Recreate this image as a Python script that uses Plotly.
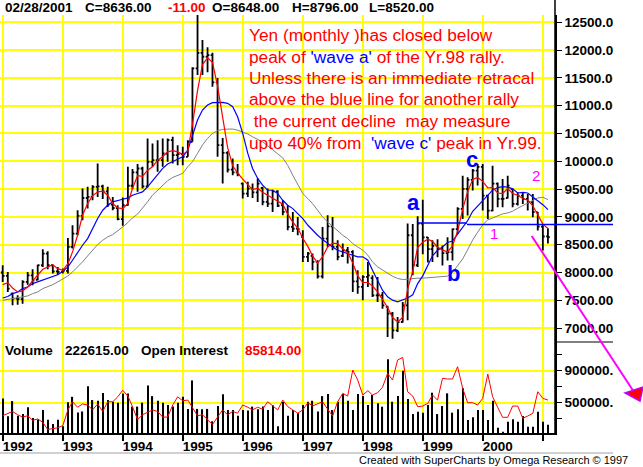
import pandas as pd
import plotly.graph_objects as go
from plotly.subplots import make_subplots

# monthly Yen futures, Jan 1992 - Feb 2001
months = pd.date_range("1992-01-01", periods=110, freq="MS")

open_ = [
    8000, 7940, 7620, 7530, 7520, 7830, 7950, 7870, 8130, 8340, 8130, 8020,
    8010, 8030, 8460, 8700, 9020, 9340, 9360, 9540, 9550, 9460, 9220, 9160,
    8960, 9210, 9560, 9800, 9870, 9550, 9990, 10020, 10020, 10140, 10380, 10110,
    10130, 10080, 10350, 11670, 11950, 11880, 11910, 11420, 10290, 10150, 9850, 9800,
    9600, 9420, 9510, 9440, 9520, 9270, 9240, 9460, 9210, 9090, 8820, 8790,
    8640, 8280, 8300, 8190, 7930, 8610, 8830, 8460, 8300, 8400, 8370, 7840,
    7740, 7920, 7900, 7590, 7590, 7380, 7260, 6960, 7110, 7410, 8670, 8130,
    8880, 8630, 8420, 8480, 8420, 8350, 8365, 8780, 9143, 9503, 9665, 9832,
    9900, 9383, 9114, 9600, 9323, 9340, 9500, 9233, 9383, 9323, 9263, 9084,
    8826, 8648,
]
high = [
    8130, 8010, 7640, 7590, 7860, 8010, 8060, 8140, 8420, 8380, 8140, 8100,
    8070, 8620, 8850, 9120, 9510, 9540, 9570, 9960, 9580, 9540, 9360, 9210,
    9350, 9900, 9860, 9950, 9900, 10410, 10320, 10380, 10410, 10410, 10440, 10290,
    10260, 10380, 11690, 12640, 12180, 12050, 11950, 11500, 10420, 10180, 10050, 9950,
    9620, 9630, 9600, 9690, 9540, 9510, 9490, 9479, 9300, 9210, 9090, 9000,
    8760, 8370, 8340, 8220, 8820, 9030, 9000, 8580, 8520, 8460, 8400, 8040,
    7950, 8190, 7950, 7920, 7650, 7400, 7290, 7200, 7470, 8880, 8870, 9010,
    9310, 8640, 8580, 8600, 8485, 8634, 8790, 9173, 9742, 9712, 9862, 9952,
    9952, 9400, 9922, 9620, 9680, 9742, 9510, 9443, 9443, 9413, 9413, 9090,
    8874, 8796,
]
low = [
    7830, 7650, 7410, 7420, 7440, 7780, 7770, 7860, 8100, 8060, 7980, 7960,
    7980, 7980, 8430, 8670, 8940, 9150, 9300, 9360, 9320, 9180, 9120, 8940,
    8840, 9200, 9500, 9450, 9510, 9530, 9900, 9810, 9900, 9990, 9960, 9930,
    9930, 10080, 10350, 11550, 11550, 11600, 11340, 10080, 9600, 9800, 9750, 9730,
    9330, 9360, 9340, 9270, 9210, 9180, 9090, 9180, 9030, 8760, 8730, 8670,
    8190, 8190, 8040, 7890, 7890, 8460, 8400, 8220, 8280, 8160, 7650, 7620,
    7500, 7740, 7560, 7470, 7350, 6840, 6810, 6930, 7100, 7140, 7950, 8100,
    8330, 8180, 8190, 8275, 8125, 8215, 8215, 8694, 8964, 9024, 9473, 9563,
    9114, 8964, 9100, 9173, 9173, 9330, 9173, 9203, 9233, 9114, 8994, 8754,
    8395, 8520,
]
close = [
    7940, 7710, 7530, 7520, 7830, 7950, 7860, 8130, 8340, 8130, 8020, 8010,
    8030, 8460, 8700, 9020, 9340, 9360, 9540, 9550, 9460, 9220, 9160, 8960,
    9210, 9560, 9800, 9870, 9550, 9990, 10020, 10020, 10140, 10380, 10110, 10130,
    10080, 10350, 11670, 11950, 11880, 11910, 11420, 10290, 10150, 9850, 9800, 9760,
    9420, 9510, 9440, 9600, 9270, 9240, 9460, 9200, 9090, 8820, 8790, 8780,
    8280, 8340, 8190, 7930, 8610, 8830, 8460, 8280, 8400, 8370, 7840, 7740,
    7920, 7950, 7590, 7590, 7410, 7260, 6960, 7110, 7410, 8670, 8130, 8880,
    8630, 8420, 8480, 8420, 8350, 8365, 8780, 9143, 9503, 9665, 9832, 9900,
    9383, 9114, 9600, 9323, 9323, 9563, 9233, 9383, 9323, 9263, 9084, 8826,
    8647, 8636,
]

# averages as drawn (red fast, blue medium, grey slow)
ma_fast = [
    7782, 7818, 7722, 7650, 7668, 7740, 7848, 7962, 8058, 8100, 8142, 8070,
    8040, 8160, 8370, 8670, 9030, 9240, 9378, 9450, 9462, 9390, 9240, 9162,
    9150, 9240, 9510, 9740, 9730, 9840, 9900, 10020, 10080, 10170, 10190, 10170,
    10120, 10190, 10660, 11270, 11740, 11860, 11780, 11350, 10800, 10250, 9920, 9790,
    9680, 9580, 9490, 9515, 9445, 9390, 9340, 9285, 9230, 9050, 8905, 8800,
    8615, 8465, 8300, 8170, 8280, 8460, 8530, 8520, 8420, 8360, 8170, 7940,
    7820, 7820, 7760, 7650, 7500, 7370, 7190, 7110, 7190, 7700, 8020, 8450,
    8545, 8600, 8560, 8460, 8405, 8370, 8480, 8740, 9140, 9450, 9675, 9710,
    9640, 9520, 9530, 9430, 9420, 9510, 9420, 9390, 9330, 9300, 9200, 9050,
    8870, 8790,
]
ma_mid = [
    7542, 7568, 7620, 7650, 7710, 7740, 7800, 7830, 7860, 7890, 7920, 7960,
    8022, 8100, 8220, 8370, 8490, 8610, 8790, 8970, 9120, 9210, 9270, 9300,
    9318, 9342, 9390, 9420, 9450, 9542, 9650, 9752, 9872, 9950, 9992, 10034,
    10082, 10202, 10472, 10742, 10922, 11012, 11054, 11060, 11060, 11042, 10982, 10802,
    10502, 10142, 9872, 9692, 9572, 9482, 9479, 9419, 9299, 9209, 9149, 9060,
    8970, 8850, 8760, 8670, 8592, 8520, 8460, 8401, 8371, 8341, 8311, 8281,
    8281, 8221, 8041, 7862, 7682, 7562, 7502, 7472, 7502, 7540, 7600, 7800,
    7940, 8120, 8300, 8400, 8460, 8540, 8565, 8690, 8820, 8930, 9100, 9190,
    9300, 9390, 9480, 9527, 9545, 9535, 9505, 9430, 9440, 9430, 9360, 9300,
    9220, 9130,
]
ma_slow = [
    7500, 7515, 7530, 7545, 7560, 7578, 7620, 7650, 7710, 7740, 7782, 7830,
    7878, 7938, 8010, 8100, 8190, 8298, 8400, 8502, 8580, 8640, 8682, 8742,
    8820, 8898, 8982, 9050, 9152, 9272, 9392, 9482, 9572, 9650, 9710, 9752,
    9782, 9902, 9992, 10142, 10292, 10412, 10502, 10550, 10574, 10578, 10580, 10560,
    10530, 10490, 10440, 10400, 10350, 10280, 10200, 10135, 10060, 9928, 9748, 9599,
    9419, 9329, 9239, 9119, 9000, 8910, 8832, 8760, 8670, 8610, 8520, 8460,
    8401, 8311, 8191, 8101, 8041, 7981, 7933, 7892, 7874, 7880, 7892, 7898,
    7898, 7904, 7904, 7910, 7922, 7934, 8000, 8113, 8245, 8407, 8586, 8724,
    8856, 8946, 8982, 9012, 9054, 9072, 9102, 9156, 9203, 9257, 9305, 9341,
    9353, 9311,
]

volume = [
    553000, 329000, 520000, 337000, 357000, 443000, 308000, 290000, 410000, 288000, 235000, 288000,
    206000, 504000, 573000, 378000, 390000, 704000, 533000, 524000, 622000, 533000, 512000, 500000,
    614000, 614000, 451000, 451000, 500000, 716000, 582000, 524000, 500000, 471000, 451000, 500000,
    573000, 422000, 778000, 422000, 418000, 422000, 267000, 459000, 606000, 410000, 410000, 337000,
    410000, 402000, 451000, 418000, 451000, 410000, 467000, 206000, 512000, 337000, 410000, 369000,
    471000, 512000, 524000, 390000, 582000, 610000, 408000, 512000, 608000, 525000, 408000, 608000,
    583000, 471000, 596000, 492000, 450000, 1042000, 512000, 583000, 900000, 546000, 358000, 388000,
    375000, 471000, 625000, 358000, 458000, 617000, 375000, 417000, 679000, 283000, 317000, 408000,
    408000, 283000, 525000, 187000, 137000, 262000, 292000, 262000, 333000, 200000, 200000, 388000,
    262000, 222615,
]
open_interest = [
    337000, 369000, 390000, 349000, 320000, 337000, 280000, 296000, 255000, 165000, 173000, 186000,
    214000, 410000, 512000, 443000, 484000, 471000, 410000, 484000, 390000, 512000, 512000, 573000,
    655000, 582000, 451000, 288000, 349000, 378000, 410000, 390000, 320000, 320000, 471000, 573000,
    524000, 533000, 443000, 337000, 349000, 288000, 227000, 320000, 410000, 349000, 390000, 369000,
    471000, 443000, 410000, 443000, 418000, 512000, 459000, 410000, 533000, 451000, 410000, 369000,
    410000, 500000, 459000, 484000, 512000, 420000, 333000, 512000, 617000, 583000, 908000, 783000,
    596000, 650000, 596000, 625000, 692000, 867000, 783000, 1033000, 1067000, 637000, 583000, 450000,
    458000, 492000, 596000, 533000, 804000, 796000, 796000, 950000, 679000, 500000, 500000, 471000,
    554000, 858000, 575000, 442000, 317000, 317000, 458000, 458000, 304000, 333000, 367000, 637000,
    554000, 533000,
]
last_oi = 85814.00

support_level = 8890
years = list(range(1992, 2002))

note_lines = [
    "Yen (monthly )has closed below",
    "peak of <span style='color:#0000FF'>'wave a'</span> of the Yr.98 rally.",
    "Unless there is an immediate retracal",
    "above the blue line for another rally",
    "&nbsp;the current decline &nbsp;may measure",
    "upto 40% from &nbsp;<span style='color:#0000FF'>'wave c'</span> peak in Yr.99.",
]

W, H = 643, 467
ML, MR, MT, MB = 0, 88, 15, 34
PW, PH = W - ML - MR, H - MT - MB
FONT = "Liberation Sans, Arial, sans-serif"


def px(x):
    return (x - ML) / PW


def py(y):
    return (H - MB - y) / PH


fig = make_subplots(rows=2, cols=1, shared_xaxes=True, vertical_spacing=0,
                    row_heights=[0.7823, 0.2177])

fig.add_trace(go.Scatter(x=months, y=ma_slow, mode="lines",
                         line=dict(color="#808080", width=1)), row=1, col=1)
fig.add_trace(go.Scatter(x=months, y=ma_mid, mode="lines",
                         line=dict(color="#0000FF", width=1.2)), row=1, col=1)
fig.add_trace(go.Scatter(x=months, y=ma_fast, mode="lines",
                         line=dict(color="#FF0000", width=1.2)), row=1, col=1)
fig.add_trace(go.Ohlc(
    x=months, open=open_, high=high, low=low, close=close,
    increasing=dict(line=dict(color="black", width=1.8)),
    decreasing=dict(line=dict(color="black", width=1.8)),
    tickwidth=0.4,
), row=1, col=1)

fig.add_trace(go.Bar(x=months, y=volume, width=7 * 86400000,
                     marker=dict(color="black", line=dict(width=0))), row=2, col=1)
fig.add_trace(go.Scatter(x=months, y=open_interest, mode="lines",
                         line=dict(color="#FF0000", width=1)), row=2, col=1)

fig.update_layout(
    width=W, height=H,
    margin=dict(l=ML, r=MR, t=MT, b=MB),
    paper_bgcolor="white", plot_bgcolor="white",
    showlegend=False, hovermode=False,
    font=dict(family=FONT, color="black"),
    xaxis_rangeslider_visible=False,
    xaxis2_rangeslider_visible=False,
)

fig.update_xaxes(
    range=["1991-12-15 14:00", "2001-03-16"],
    tickvals=[f"{y}-01-01" for y in years],
    showgrid=True, gridcolor="#FFFF00", gridwidth=2, zeroline=False,
)
fig.update_xaxes(showticklabels=False, ticks="", row=1, col=1)
fig.update_xaxes(
    ticktext=[str(y) for y in years[:-1]] + [""],
    ticks="outside", ticklen=6, tickwidth=1.5, tickcolor="black",
    showline=True, linecolor="black", linewidth=1.5,
    tickfont=dict(size=13.5, weight="bold"), ticklabelshift=15, ticklabelstandoff=-6,
    row=2, col=1,
)

fig.update_yaxes(
    side="right", range=[6750, 12631],
    tickvals=list(range(7000, 13000, 500)), tickformat=".2f",
    showgrid=True, gridcolor="#FFFF00", gridwidth=2, zeroline=False,
    ticks="outside", ticklen=5, tickcolor="black",
    showline=True, linecolor="black", linewidth=1.5,
    tickfont=dict(size=13.5, weight="bold"),
    row=1, col=1,
)
fig.update_yaxes(
    side="right", range=[121000, 1258750],
    tickvals=[500000, 900000], tickformat=".2f",
    showgrid=True, gridcolor="#FFFF00", gridwidth=2, zeroline=False,
    ticks="outside", ticklen=5, tickcolor="black",
    minor=dict(tickmode="array", tickvals=[300000, 700000, 1100000],
               ticks="outside", ticklen=5, tickcolor="black"),
    showline=True, linecolor="black", linewidth=1.5,
    tickfont=dict(size=13.5, weight="bold"),
    row=2, col=1,
)

head = [(625, 393), (643, 387), (640, 401)]
head_path = "M " + " L ".join(f"{px(a):.5f},{py(b):.5f}" for a, b in head) + " Z"

shapes = [
    # right axis runs to the top edge, panel separator in the axis strip
    dict(type="line", xref="paper", yref="paper", x0=1, x1=1, y0=0, y1=py(0),
         line=dict(color="black", width=1.5)),
    dict(type="line", xref="paper", yref="paper", x0=1, x1=px(613), y0=py(342), y1=py(342),
         line=dict(color="black", width=1.2)),
    # chart bitmap ends at x=613
    dict(type="rect", xref="paper", yref="paper", x0=px(613), x1=px(660), y0=py(442), y1=py(-5),
         fillcolor="white", line=dict(width=0), layer="above"),
    dict(type="line", xref="paper", yref="paper", x0=0, x1=px(613), y0=py(453), y1=py(453),
         line=dict(color="#C0C0C0", width=1.5)),
    # hand-drawn blue support line
    dict(type="line", xref="paper", yref="y", x0=px(418), x1=px(467),
         y0=support_level, y1=support_level, line=dict(color="#0000FF", width=1.5)),
    dict(type="line", xref="paper", yref="y", x0=px(467), x1=px(613),
         y0=support_level - 25, y1=support_level - 25, line=dict(color="#0000FF", width=1.5)),
    # magenta projection arrow with red head
    dict(type="line", xref="paper", yref="paper", x0=px(531.7), y0=py(236),
         x1=px(634), y1=py(392), line=dict(color="#FF00FF", width=2), layer="above"),
    dict(type="path", xref="paper", yref="paper", path=head_path, fillcolor="#FF0000",
         line=dict(color="#C000FF", width=1.5), layer="above"),
]
fig.update_layout(shapes=shapes)

ann = []


def label(x, y, text, size=13.5, color="black", bold=True, anchor="left"):
    ann.append(dict(xref="paper", yref="paper", x=px(x), y=py(y), text=text,
                    showarrow=False, xanchor=anchor, yanchor="middle",
                    font=dict(size=size, color=color, family=FONT,
                              weight="bold" if bold else "normal")))


last_day = (months[-1] + pd.offsets.MonthEnd(0)).strftime("%m/%d/%Y")
label(2.7, 8, last_day)
label(82.7, 8, f"C={close[-1]:.2f}")
label(166, 8, f"{close[-1] - close[-2]:.2f}", color="#FF0000")
label(210, 8, f"O={open_[-1]:.2f}")
label(290, 8, f"H={high[-1]:.2f}")
label(366.7, 8, f"L={low[-1]:.2f}")

label(2.7, 350, "Volume")
label(62.7, 350, f"{volume[-1]:.2f}")
label(139.3, 350, "Open Interest")
label(242.7, 350, f"{last_oi:.2f}", color="#FF0000")

for yy, line in zip([35, 56.7, 78.3, 99.5, 121, 142.7], note_lines):
    label(246.7, yy, line, size=17.3, color="#FF0000", bold=False)

label(413.5, 202.5, "a", size=22, color="#0000FF", anchor="center")
label(453, 273, "b", size=22, color="#0000FF", anchor="center")
label(472, 159.5, "c", size=22, color="#0000FF", anchor="center")
label(494, 233.5, "1", size=15, color="#FF00FF", bold=False, anchor="center")
label(536, 175.5, "2", size=15, color="#FF00FF", bold=False, anchor="center")

label(356.7, 460, "Created with SuperCharts by Omega Research © 1997", size=11, bold=False)

fig.update_layout(annotations=ann)

fig.write_html("out.html", config={"displayModeBar": False},
               post_script="document.body.style.margin='0px';")
